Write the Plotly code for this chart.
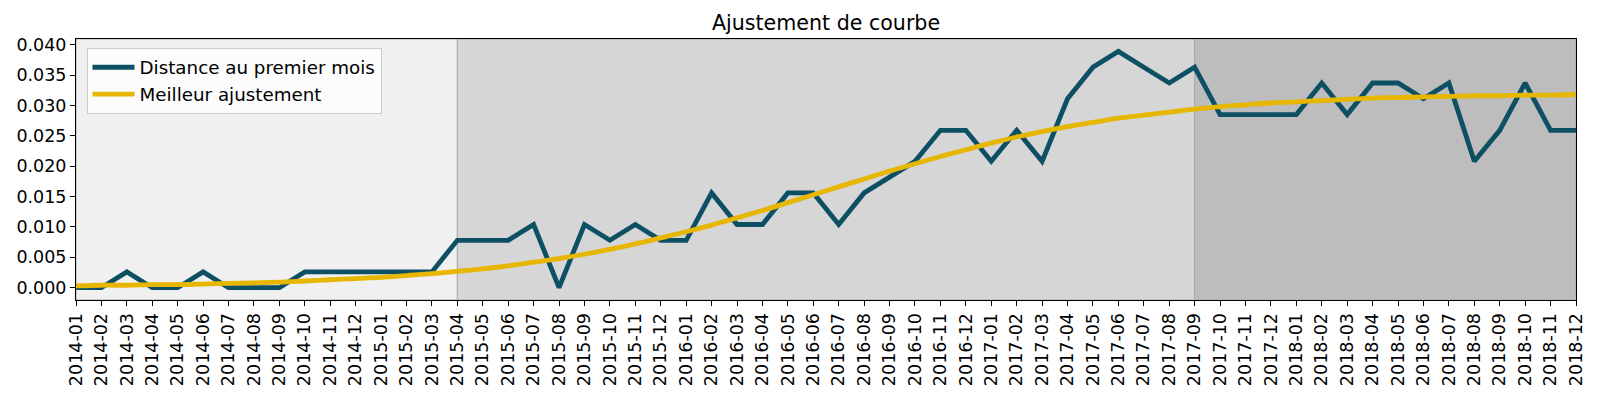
import plotly.graph_objects as go

# months on the x axis
months = [f"{y}-{m:02d}" for y in range(2014, 2019) for m in range(1, 13)]

# distance au premier mois
distance = [
    0.0, 0.0, 0.0026, 0.0, 0.0, 0.0026, 0.0, 0.0, 0.0, 0.0026, 0.0026, 0.0026,
    0.0026, 0.0026, 0.0026, 0.0078, 0.0078, 0.0078, 0.0104, 0.0, 0.0104, 0.0078, 0.0104, 0.0078,
    0.0078, 0.0156, 0.0104, 0.0104, 0.0156, 0.0156, 0.0104, 0.0156, 0.0182, 0.0208, 0.0259, 0.0259,
    0.0208, 0.0259, 0.0208, 0.0311, 0.0363, 0.0389, 0.0363, 0.0337, 0.0363, 0.0285, 0.0285, 0.0285,
    0.0285, 0.0337, 0.0285, 0.0337, 0.0337, 0.0311, 0.0337, 0.0208, 0.0259, 0.0337, 0.0259, 0.0259,
]

# meilleur ajustement
fit = [
    0.0003, 0.0004, 0.0004, 0.0005, 0.0005, 0.0006, 0.0007, 0.0008, 0.0009, 0.0011, 0.0013, 0.0015,
    0.0017, 0.0020, 0.0023, 0.0027, 0.0031, 0.0036, 0.0042, 0.0048, 0.0055, 0.0063, 0.0072, 0.0082,
    0.0092, 0.0103, 0.0115, 0.0127, 0.0140, 0.0153, 0.0166, 0.0179, 0.0192, 0.0204, 0.0216, 0.0227,
    0.0238, 0.0248, 0.0257, 0.0265, 0.0272, 0.0279, 0.0284, 0.0289, 0.0294, 0.0298, 0.0301, 0.0304,
    0.0306, 0.0308, 0.0310, 0.0312, 0.0313, 0.0314, 0.0315, 0.0316, 0.0316, 0.0317, 0.0317, 0.0318,
]

# shaded periods
period_bounds = [("2014-01", "2015-04"), ("2015-04", "2017-09"), ("2017-09", "2018-12")]
period_colors = ["#f0f0f0", "#d6d6d6", "#bdbdbd"]

font = "DejaVu Sans"

fig = go.Figure()
fig.add_trace(go.Scatter(x=months, y=distance, mode="lines", name="Distance au premier mois",
                         line=dict(color="#0d4f63", width=4.8)))
fig.add_trace(go.Scatter(x=months, y=fit, mode="lines", name="Meilleur ajustement",
                         line=dict(color="#e6b600", width=4.8, shape="spline")))

for (a, b), c in zip(period_bounds, period_colors):
    fig.add_shape(type="rect", xref="x", yref="paper", x0=a, x1=b, y0=0, y1=1,
                  fillcolor=c, line=dict(color="#ababab", width=1), layer="below")

# the page puts the figure 8px in from the top-left corner, margins allow for it
fig.update_layout(
    width=1600, height=400,
    margin=dict(l=68, r=32, t=31, b=108),
    paper_bgcolor="white", plot_bgcolor="#f0f0f0",
    font=dict(family=font, size=17.5, color="black"),
    title=dict(text="Ajustement de courbe", x=0.5, xref="paper", y=1 - 15 / 400,
               yref="container", xanchor="center", yanchor="middle",
               font=dict(family=font, size=20.6, color="black")),
    legend=dict(x=0.007, y=0.966, xanchor="left", yanchor="top", itemwidth=42,
                bgcolor="rgba(252,252,252,0.95)", bordercolor="#cccccc", borderwidth=1,
                font=dict(family=font, size=18.3)),
    showlegend=True,
)
fig.update_xaxes(type="category", range=[0, len(months) - 1], tickangle=-90,
                 showgrid=False, zeroline=False, showline=True, linecolor="black",
                 linewidth=1, mirror=True, ticks="outside", ticklen=5, tickcolor="black",
                 tickfont=dict(family=font, size=17.5), automargin=False)
fig.update_yaxes(range=[-0.00203, 0.04094], tickvals=[i * 0.005 for i in range(9)],
                 tickformat=".3f", showgrid=False, zeroline=False, showline=True,
                 linecolor="black", linewidth=1, mirror=True, ticks="outside", ticklen=5,
                 tickcolor="black", tickfont=dict(family=font, size=17.5), automargin=False)

fig.write_html("out.html")
